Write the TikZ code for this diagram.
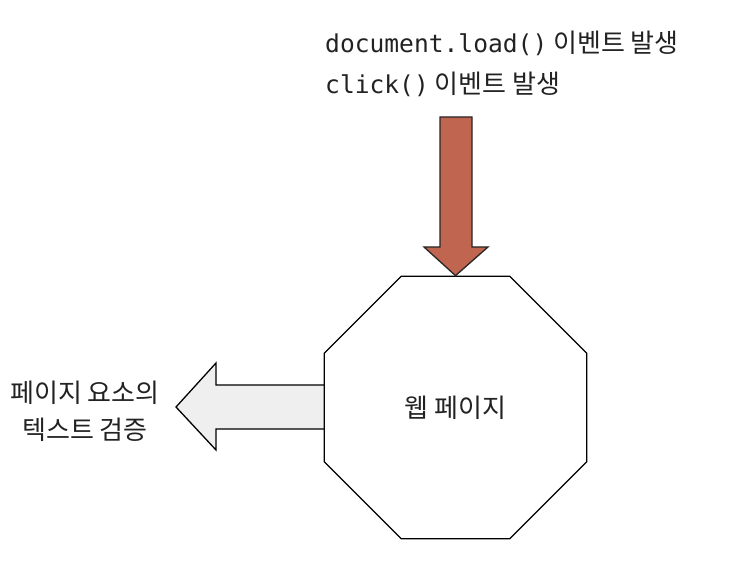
\documentclass[tikz,border=0pt]{standalone}
\usepackage{fontspec}
\setmainfont{Noto Sans CJK KR}
\newfontfamily\monofont{DejaVu Sans Mono}
\newfontfamily\kofont{Noto Sans CJK KR}
\usetikzlibrary{shapes.geometric}
\definecolor{arrowred}{HTML}{C0654F}
\definecolor{arrowgray}{HTML}{EFEFEF}
\definecolor{textgray}{HTML}{222222}
\tikzset{
  pagebox/.style={draw=black, line width=1.3pt, regular polygon, regular polygon sides=8,
    minimum size=284pt, inner sep=0pt, fill=white},
  redarrow/.style={draw=black!85, line width=1.3pt, fill=arrowred, line join=miter},
  grayarrow/.style={draw=black, line width=1.3pt, fill=arrowgray, line join=miter},
  eventtext/.style={anchor=base west, inner sep=0pt, text=textgray},
  kolabel/.style={inner sep=0pt, text=textgray, align=center, font=\kofont\fontsize{26}{37}\selectfont}
}
\newcommand{\evline}[2]{{\monofont\fontsize{24.6}{24}\selectfont #1}{\kofont\fontsize{26}{26}\selectfont\ #2}}
\begin{document}
\begin{tikzpicture}[x=1pt,y=-1pt]
\useasboundingbox (0,0) rectangle (748,564);
% gray arrow (drawn first, behind the octagon)
\draw[grayarrow] (330,385) -- (216,385) -- (216,363) -- (176,407) -- (216,450) -- (216,429) -- (330,429);
\node[pagebox] (page) at (455.5,407.5) {};
\node[kolabel] (pagelabel) at (page.center) {웹 페이지};
% red arrow
\coordinate (tip) at (page.north);
\draw[redarrow] (440,117) -- (472,117) -- (472,247) -- (488,247) -- (tip) -- (424,247) -- (440,247) -- cycle;
\node[eventtext] (ev1) at (325,53) {\evline{document.load()}{이벤트 발생}};
\node[eventtext] (ev2) at (325,94) {\evline{click()}{이벤트 발생}};
\node[kolabel] (verify) at (85,411) {페이지 요소의\\텍스트 검증};
\end{tikzpicture}
\end{document}
